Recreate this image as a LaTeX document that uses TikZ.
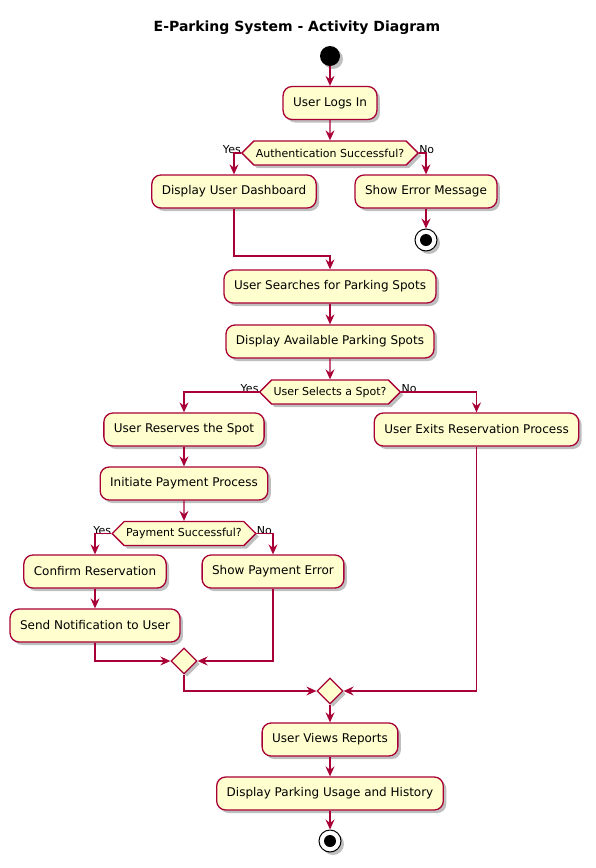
\documentclass[tikz,border=0pt]{standalone}
\usepackage{fontspec}
\setmainfont{DejaVu Sans}
\usetikzlibrary{shapes.geometric,shapes.symbols,arrows.meta,shadows,positioning}
\definecolor{pfill}{HTML}{FEFECE}
\definecolor{pline}{HTML}{A80036}
\tikzset{
  shad/.style={drop shadow={shadow xshift=3pt,shadow yshift=-3pt,opacity=0.25,fill=black}},
  act/.style={draw=pline,fill=pfill,line width=1.3pt,rounded corners=9pt,minimum height=33pt,inner xsep=10pt,font=\fontsize{12}{14}\selectfont,shad},
  dec/.style={draw=pline,fill=pfill,line width=1.3pt,signal,signal to=west and east,signal pointer angle=90,minimum height=24pt,inner xsep=2pt,inner ysep=0pt,font=\fontsize{11}{13}\selectfont,shad},
  mrg/.style={draw=pline,fill=pfill,line width=1.3pt,diamond,minimum size=26pt,inner sep=0pt,shad},
  arr/.style={draw=pline,line width=1.3pt,-{Stealth[length=10pt,width=9pt,inset=3.5pt]}},
  lbl/.style={font=\fontsize{11}{13}\selectfont,inner sep=0pt},
}
\begin{document}
\begin{tikzpicture}[x=1pt,y=-1pt]
\useasboundingbox (0,0) rectangle (595,868);
\node[font=\bfseries\fontsize{14}{16}\selectfont] (title) at (297,28) {E-Parking System - Activity Diagram};
\node[circle,fill=black,minimum size=20pt,inner sep=0pt,shad] (start) at (330,56) {};
\node[act] (login) at (330,103) {User Logs In};
\node[dec] (auth) at (330,153) {Authentication Successful?};
\node[lbl,anchor=south east] (yes1) at ([yshift=-1pt]auth.west) {Yes};
\node[lbl,anchor=south west] (no1) at ([yshift=-1pt]auth.east) {No};
\node[act] (dash) at (234,191.5) {Display User Dashboard};
\node[act] (err) at (426,191.5) {Show Error Message};
\node[circle,draw=black,fill=white,line width=1pt,minimum size=22pt,inner sep=0pt,shad] (end1) at (426,240) {};
\node[circle,fill=black,minimum size=12pt,inner sep=0pt] (end1i) at (end1) {};
\coordinate (j1) at (330,256);
\node[act] (search) at (330,286.5) {User Searches for Parking Spots};
\node[act] (avail) at (330,341.5) {Display Available Parking Spots};
\node[dec] (sel) at (330,392) {User Selects a Spot?};
\node[lbl,anchor=south east] (yes2) at ([yshift=-1pt]sel.west) {Yes};
\node[lbl,anchor=south west] (no2) at ([yshift=-1pt]sel.east) {No};
\node[act] (reserve) at (184,429.5) {User Reserves the Spot};
\node[act] (exit) at (476.5,429.5) {User Exits Reservation Process};
\node[act] (pay) at (184,483.5) {Initiate Payment Process};
\node[dec] (pays) at (184,533.5) {Payment Successful?};
\node[lbl,anchor=south east] (yes3) at ([yshift=-1pt]pays.west) {Yes};
\node[lbl,anchor=south west] (no3) at ([yshift=-1pt]pays.east) {No};
\node[act] (conf) at (95,571.5) {Confirm Reservation};
\node[act] (perr) at (273,571.5) {Show Payment Error};
\node[act] (notif) at (95,625.5) {Send Notification to User};
\node[mrg] (m1) at (184,661) {};
\node[mrg] (m2) at (330,691) {};
\node[act] (views) at (330,739.5) {User Views Reports};
\node[act] (hist) at (330,793.5) {Display Parking Usage and History};
\node[circle,draw=black,fill=white,line width=1pt,minimum size=22pt,inner sep=0pt,shad] (end2) at (330,841) {};
\node[circle,fill=black,minimum size=12pt,inner sep=0pt] (end2i) at (end2) {};
\draw[arr] (start) -- (login);
\draw[arr] (login) -- (auth);
\draw[arr] (auth.west) -| (dash.north);
\draw[arr] (auth.east) -| (err.north);
\draw[arr] (err) -- (end1);
\draw[arr] (dash.south) |- (j1) -- (search.north);
\draw[arr] (search) -- (avail);
\draw[arr] (avail) -- (sel);
\draw[arr] (sel.west) -| (reserve.north);
\draw[arr] (sel.east) -| (exit.north);
\draw[arr] (reserve) -- (pay);
\draw[arr] (pay) -- (pays);
\draw[arr] (pays.west) -| (conf.north);
\draw[arr] (pays.east) -| (perr.north);
\draw[arr] (conf) -- (notif);
\draw[arr] (notif.south) |- (m1.west);
\draw[arr] (perr.south) |- (m1.east);
\draw[arr] (m1.south) |- (m2.west);
\draw[arr] (exit.south) |- (m2.east);
\draw[arr] (m2) -- (views);
\draw[arr] (views) -- (hist);
\draw[arr] (hist) -- (end2);
\end{tikzpicture}
\end{document}
